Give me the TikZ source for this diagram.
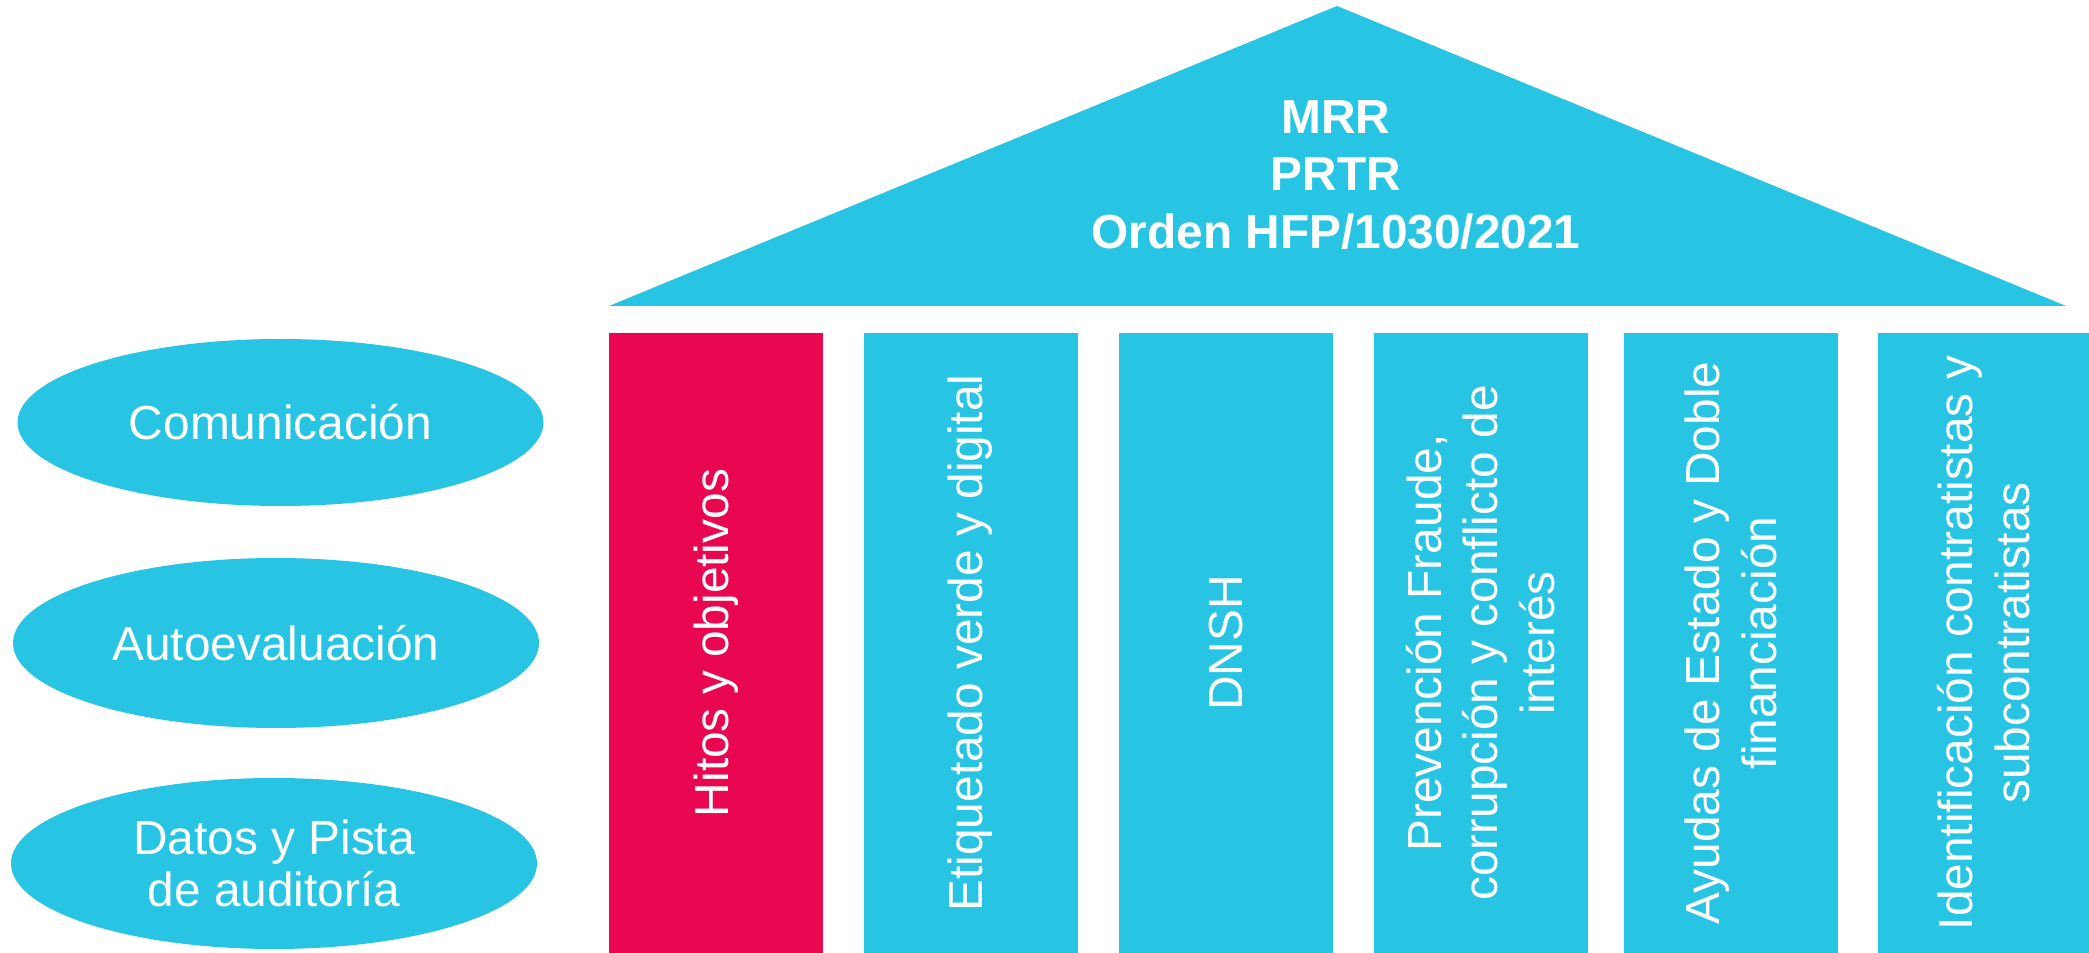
\documentclass[tikz,border=0pt]{standalone}
\usepackage{fontspec}
\setmainfont{Liberation Sans}
\usetikzlibrary{shapes.geometric}
\definecolor{mrrcyan}{RGB}{39,197,227}
\definecolor{mrrpink}{RGB}{232,7,80}
\tikzset{
  pillar/.style={fill=mrrcyan,rectangle,rotate=90,minimum width=310bp,minimum height=107bp,inner sep=0pt,text=white,align=center,font=\fontsize{24}{28.5}\selectfont},
  tool/.style={fill=mrrcyan,ellipse,minimum width=263bp,minimum height=85bp,inner sep=0pt,text=white,align=center,font=\fontsize{24}{26.5}\selectfont},
}
\begin{document}
\begin{tikzpicture}[line join=bevel,]
    \useasboundingbox (0bp,0bp) rectangle (1044.5bp,476.5bp);
    %% roof
    \fill [mrrcyan] (304.5bp,323.5bp) -- (668.5bp,473.5bp) -- (1033.0bp,323.5bp) -- cycle;
    \node (roof) at (668.0bp,389.0bp) [text=white,align=center,font=\bfseries\fontsize{24}{29}\selectfont] {MRR\\PRTR\\Orden HFP/1030/2021};
    %% pillars
    \node (hitos) at (358.0bp,155.0bp) [pillar,fill=mrrpink] {Hitos y objetivos};
    \node (etiq) at (485.25bp,155.0bp) [pillar] {Etiquetado verde y digital};
    \node (dnsh) at (613.0bp,155.0bp) [pillar] {DNSH};
    \node (fraude) at (740.25bp,155.0bp) [pillar] {Prevención Fraude,\\corrupción y conflicto de\\interés};
    \node (ayudas) at (865.5bp,155.0bp) [pillar] {Ayudas de Estado y Doble\\financiación};
    \node (ident) at (991.75bp,155.0bp) [pillar,minimum height=105.5bp] {Identificación contratistas y\\subcontratistas};
    %% side tools
    \node (comun) at (140.25bp,265.25bp) [tool,minimum height=83.5bp] {Comunicación};
    \node (autoev) at (138.0bp,155.0bp) [tool] {Autoevaluación};
    \node (datos) at (137.0bp,44.75bp) [tool,minimum height=85.5bp] {Datos y Pista\\de auditoría};
    %
\end{tikzpicture}
\end{document}
